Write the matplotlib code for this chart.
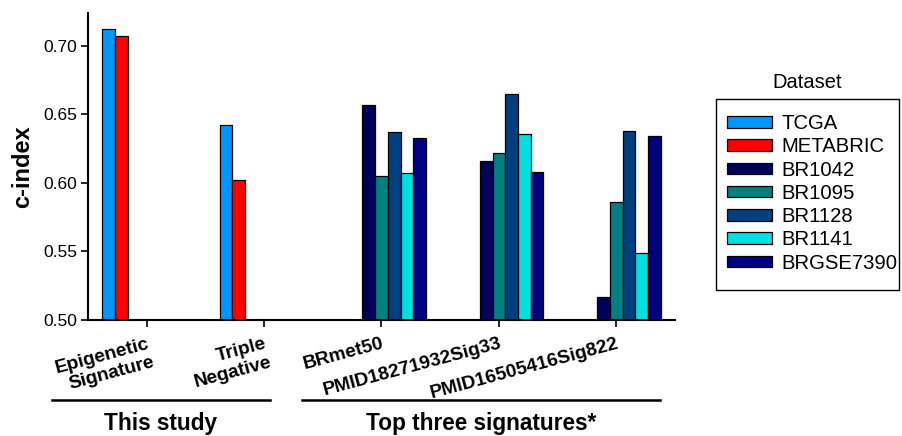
import numpy as np
import matplotlib
matplotlib.use("Agg")
import matplotlib.pyplot as plt
from matplotlib.patches import Patch, Rectangle
from matplotlib.lines import Line2D

plt.rcParams['font.family'] = ['Liberation Sans', 'DejaVu Sans']

categories = ["Epigenetic\nSignature", "Triple\nNegative", "BRmet50",
              "PMID18271932Sig33", "PMID16505416Sig822"]
datasets = ["TCGA", "METABRIC", "BR1042", "BR1095", "BR1128", "BR1141", "BRGSE7390"]
colors = ["#0096FF", "#FF0000", "#00005A", "#008080", "#004080", "#00E0E0", "#000080"]
nan = np.nan
tcga = [0.712, 0.642, nan, nan, nan]
metabric = [0.707, 0.602, nan, nan, nan]
br1042 = [nan, nan, 0.657, 0.616, 0.517]
br1095 = [nan, nan, 0.605, 0.622, 0.586]
br1128 = [nan, nan, 0.637, 0.665, 0.638]
br1141 = [nan, nan, 0.607, 0.636, 0.549]
brgse7390 = [nan, nan, 0.633, 0.608, 0.634]
series = [tcga, metabric, br1042, br1095, br1128, br1141, brgse7390]
group_labels = ["This study", "Top three signatures*"]

fig = plt.figure(figsize=(9.03, 4.36), dpi=100)
ax = fig.add_axes([88/903, 1-320/436, (675-88)/903, (320-13)/436])

x = np.arange(len(categories))
w = 0.108
for k, (vals, col, name) in enumerate(zip(series, colors, datasets)):
    vals = np.array(vals, dtype=float)
    m = ~np.isnan(vals)
    ax.bar(x[m] + (k - 3) * w, vals[m], width=w, color=col, edgecolor='black',
           linewidth=0.9, label=name)

ax.set_xlim(-0.5, 4.5)
ax.set_ylim(0.5, 0.724)
ax.set_yticks([0.50, 0.55, 0.60, 0.65, 0.70])
ax.set_yticklabels([f"{v:.2f}" for v in [0.50, 0.55, 0.60, 0.65, 0.70]], fontsize=12.5)
ax.set_xticks(x)
ax.set_xticklabels(categories, fontsize=13.8, fontweight='bold', rotation=15,
                   ha='right', va='top', rotation_mode='anchor', multialignment='right')
ax.tick_params(axis='x', length=5, width=1.2, pad=6)
ax.tick_params(axis='y', length=5, width=1.2, pad=3)
ax.spines['top'].set_visible(False)
ax.spines['right'].set_visible(False)
ax.spines['left'].set_linewidth(1.5)
ax.spines['bottom'].set_linewidth(1.5)
ax.set_ylabel("c-index", fontsize=17, fontweight='bold', labelpad=6)

# group brackets
for (x0, x1), lab in zip([(52, 270), (302, 660)], group_labels):
    fig.add_artist(Line2D([x0/903, x1/903], [1-400/436, 1-400/436], color='black', lw=1.8,
                          transform=fig.transFigure))
    fig.text((x0+x1)/2/903, 1-423/436, lab, ha='center', va='center',
             fontsize=16.3, fontweight='bold')

# legend frame drawn separately
fig.add_artist(Rectangle((716/903, 1-290/436), (899-716)/903, (290-99)/436,
                         transform=fig.transFigure, facecolor='none',
                         edgecolor='black', linewidth=1.0))
handles = [Patch(facecolor=c, edgecolor='black', linewidth=0.9) for c in colors]
leg = fig.legend(handles, datasets, loc='upper left',
                 bbox_to_anchor=(727/903, 1-114/436), fontsize=14.6, frameon=False,
                 handlelength=2.2, handleheight=0.5,
                 labelspacing=0.21, borderpad=0.0, handletextpad=0.5, borderaxespad=0)
fig.text(807/903, 1-83/436, "Dataset", ha='center', va='center', fontsize=14.5)

fig.savefig("out.png", dpi=100)
